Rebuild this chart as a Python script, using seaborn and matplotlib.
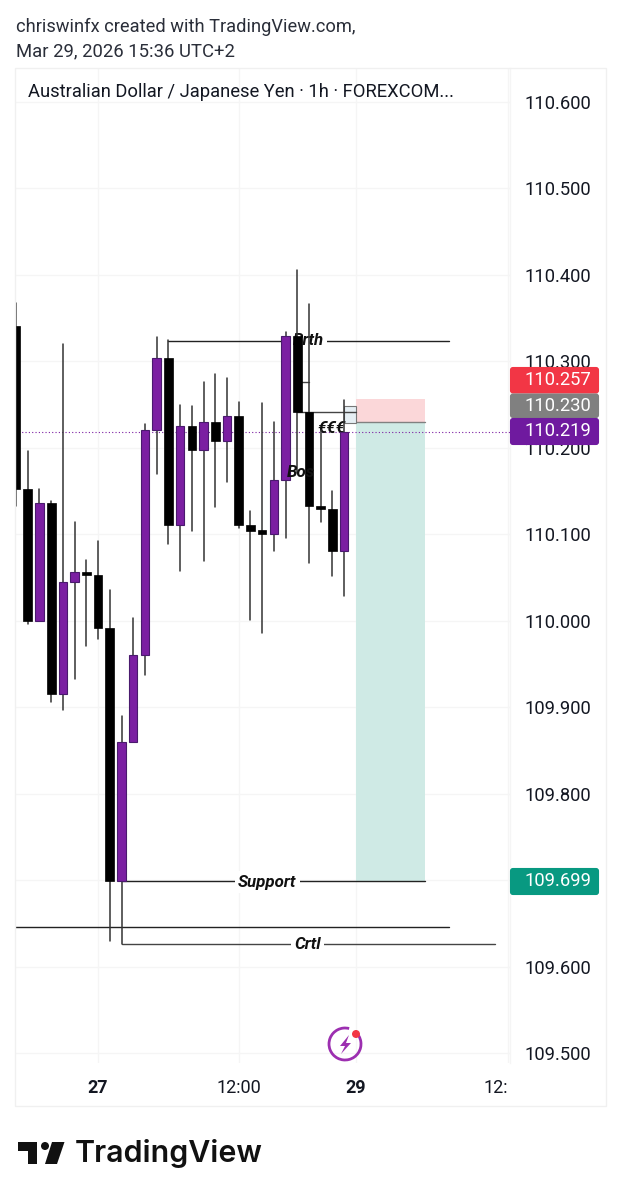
import pandas as pd
import seaborn as sns
import matplotlib.pyplot as plt
from matplotlib.patches import Rectangle, Circle, Polygon, FancyBboxPatch, Arc

# candles, one hour each
opens = [110.341, 110.153, 110.000, 110.136, 109.916, 110.045, 110.057, 110.053, 109.992, 109.699,
         109.860, 109.961, 110.221, 110.304, 110.111, 110.226, 110.198, 110.230, 110.208, 110.237,
         110.111, 110.105, 110.101, 110.163, 110.329, 110.242, 110.133, 110.130, 110.081]
closes = [110.153, 110.000, 110.136, 109.916, 110.045, 110.057, 110.053, 109.992, 109.699, 109.860,
          109.961, 110.221, 110.304, 110.111, 110.226, 110.198, 110.230, 110.208, 110.237, 110.111,
          110.104, 110.101, 110.163, 110.329, 110.242, 110.133, 110.130, 110.081, 110.219]
highs = [110.368, 110.197, 110.153, 110.139, 110.320, 110.114, 110.071, 110.092, 110.036, 109.890,
         110.003, 110.228, 110.328, 110.325, 110.250, 110.249, 110.276, 110.285, 110.281, 110.253,
         110.127, 110.252, 110.230, 110.334, 110.406, 110.366, 110.221, 110.150, 110.256]
lows = [110.133, 109.997, 110.000, 109.906, 109.897, 109.933, 109.971, 109.979, 109.630, 109.627,
        109.860, 109.938, 110.170, 110.089, 110.058, 110.104, 110.069, 110.132, 110.161, 110.108,
        110.001, 109.986, 110.081, 110.096, 110.171, 110.067, 110.114, 110.052, 110.029]

price_ticks = [110.6, 110.5, 110.4, 110.3, 110.2, 110.1, 110.0, 109.9, 109.8, 109.7, 109.6, 109.5]
time_ticks = [7, 19, 29, 42]
time_labels = ["27", "12:00", "29", "12:"]

# position tool and drawings
last_price = 110.219
entry_price = 110.230
stop_price = 110.257
target_price = 109.699
brth_price = 110.3237
crtl_price = 109.6265
low_line_price = 109.646
bos_price = 110.242
short_price = 110.276
box_top = 110.249
box_bottom = 110.229

badge_values = ["110.257", "110.230", "110.219", "109.699"]
badge_colors = ["#f23645", "#808080", "#6f1a9f", "#089981"]

PURPLE = "#7b1fa2"
GRID = "#f5f5f5"
FONT = "Roboto"

sns.set_theme(style="white")
plt.rcParams["font.family"] = [FONT, "DejaVu Sans"]

df = pd.DataFrame({"i": range(len(opens)), "open": opens, "close": closes, "high": highs, "low": lows})
df["bottom"] = df[["open", "close"]].min(axis=1)
df["body"] = (df["open"] - df["close"]).abs()

fig = plt.figure(figsize=(6.21, 12), dpi=100, facecolor="white")
W, H = 621, 1200
ax = fig.add_axes([15 / W, 1 - 1063 / H, (509.5 - 15) / W, (1063 - 68) / H])

# wicks
wicks = df.melt(id_vars="i", value_vars=["high", "low"], value_name="price")
sns.lineplot(data=wicks, x="i", y="price", units="i", estimator=None, sort=False,
             color="#333333", lw=1.1, zorder=6, legend=False, ax=ax)

# bodies
up = df[df["close"] >= df["open"]]
down = df[df["close"] < df["open"]]
sns.barplot(data=up, x="i", y="body", bottom=up["bottom"], native_scale=True, width=0.72, gap=0,
            color=PURPLE, saturation=1, edgecolor="#4a1a6e", linewidth=0.8, errorbar=None, zorder=7, ax=ax)
sns.barplot(data=down, x="i", y="body", bottom=down["bottom"], native_scale=True, width=0.74, gap=0,
            color="black", saturation=1, edgecolor="black", linewidth=0.5, errorbar=None, zorder=7, ax=ax)

# long position
ax.fill_between([29, 34.92], entry_price, stop_price, color="#fbd7d9", lw=0, zorder=1.5)
ax.fill_between([29, 34.92], target_price, entry_price, color="#cfeae5", lw=0, zorder=1.5)
ax.plot([29, 34.92], [entry_price, entry_price], color="#808080", lw=1, zorder=2)
ax.plot([9, 34.92], [target_price, target_price], color="#222222", lw=1, zorder=3)

# other drawings
ax.plot([13, 36.9], [brth_price, brth_price], color="#222222", lw=1, zorder=3)
ax.plot([-0.15, 36.9], [low_line_price, low_line_price], color="#222222", lw=1, zorder=3)
ax.plot([9, 40.9], [crtl_price, crtl_price], color="#444444", lw=1, zorder=3)
ax.plot([24, 29], [bos_price, bos_price], color="#444444", lw=1, zorder=5)
ax.plot([24.3, 25], [short_price, short_price], color="#444444", lw=1, zorder=5)
ax.add_patch(Rectangle((28, box_bottom), 1, box_top - box_bottom, fc="#e6eff4", ec="#777777", lw=0.8, zorder=4))
ax.axhline(last_price, color=PURPLE, lw=0.8, ls=(0, (1, 2)), zorder=4.5)

box = dict(fc="white", ec="none", pad=2.5)
label_kw = dict(ha="center", va="center", fontsize=12.2, style="italic", weight="bold", color="#111111")
ax.text(21.44, target_price - 0.001, "Support", bbox=box, zorder=4, **label_kw)
ax.text(24.85, crtl_price, "Crtl", bbox=box, zorder=4, **label_kw)
ax.text(24.95, brth_price, "Brth", bbox=box, zorder=4, **label_kw)
ax.text(24.34, 110.172, "Bos", zorder=8, **label_kw)
ax.text(26.9, 110.222, "€€€", zorder=5, **label_kw)

# axes, grid and ticks
ax.set_xlim(-0.09, 42.105)
ax.set_ylim(109.489, 110.6393)
ax.set_xlabel("")
ax.set_ylabel("")
ax.yaxis.tick_right()
ax.set_yticks(price_ticks)
ax.set_yticklabels([f"{p:.3f}" for p in price_ticks], fontsize=13.2, color="#131722")
ax.set_xticks(time_ticks)
ax.set_xticklabels(time_labels, fontsize=13, color="#131722")
ax.tick_params(axis="y", length=0, pad=11)
ax.tick_params(axis="x", length=0, pad=11.2)
ax.grid(True, color=GRID, lw=1)
ax.set_axisbelow(True)
for name in ["left", "top", "bottom"]:
    ax.spines[name].set_visible(False)
ax.spines["right"].set_color(GRID)
ax.spines["right"].set_linewidth(1)
labels = ax.get_xticklabels()
labels[0].set_fontweight("bold")
labels[2].set_fontweight("bold")
labels[3].set_ha("right")

# everything outside the chart panes, in pixel coordinates
over = fig.add_axes([0, 0, 1, 1], facecolor="none")
over.set_xlim(0, W)
over.set_ylim(H, 0)
over.axis("off")
over.add_patch(Rectangle((15, 68), 590.5, 1038, fc="none", ec="#f0f0f0", lw=1))

over.text(16, 27, "chriswinfx created with TradingView.com,", fontsize=13.17, color="#2a2e39", va="center")
over.text(16, 51, "Mar 29, 2026 15:36 UTC+2", fontsize=13.3, color="#2a2e39", va="center")
over.text(28, 92, "Australian Dollar / Japanese Yen · 1h · FOREXCOM...", fontsize=13.25, color="#131722", va="center")

badge_box = [(367, 393.5), (393.5, 418), (418, 445), (868, 895)]
for (y0, y1), value, color in zip(badge_box, badge_values, badge_colors):
    over.add_patch(FancyBboxPatch((511, y0 + 1), 87, y1 - y0 - 2, boxstyle="round,pad=0,rounding_size=2",
                                  fc=color, ec=color, lw=1.5))
    over.text(557.5, (y0 + y1) / 2, value, color="white", fontsize=13.2, ha="center", va="center")

# replay icon
over.add_patch(Arc((345, 1044), 32, 32, theta1=-50, theta2=285, ec="#9c2fb0", lw=2))
over.add_patch(Polygon([(349, 1035), (340, 1046), (345, 1046), (341, 1054), (351, 1043), (346, 1043)],
                       fc="#9c2fb0", ec="none"))
over.add_patch(Circle((356, 1034), 4, fc="#f23645", ec="none"))

# TradingView logo
over.add_patch(Polygon([(18, 1142), (37, 1142), (37, 1164), (27.5, 1164), (27.5, 1151), (18, 1151)], fc="#111111", ec="none"))
over.add_patch(Circle((45, 1146), 4, fc="#111111", ec="none"))
over.add_patch(Polygon([(52, 1142), (64.5, 1142), (57, 1164), (45, 1164)], fc="#111111", ec="none"))
over.text(75, 1154, "TradingView", fontsize=21.9, family="Inter", weight="semibold", color="#111111", va="center")

fig.savefig("out.png", dpi=100)
